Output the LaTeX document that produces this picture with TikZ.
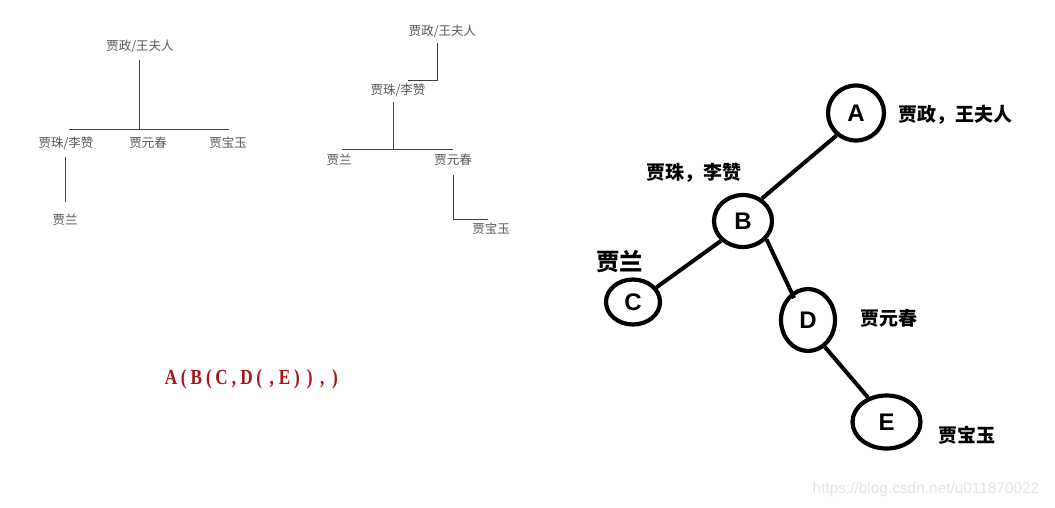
\documentclass[tikz,border=0pt]{standalone}
\usepackage{fontspec}
\setmainfont{Liberation Sans}
\newfontfamily\cjk{Noto Sans CJK SC}
\newfontfamily\formfont[FakeStretch=0.8]{Liberation Serif}
\usetikzlibrary{shapes.geometric}
\definecolor{fred}{RGB}{165,22,22}
\newcommand\fc[1]{\makebox[12.6pt]{#1}}
\begin{document}
\begin{tikzpicture}[x=1pt,y=-1pt,
  gl/.style={font=\cjk\fontsize{12.5}{14}\selectfont, text=black!65, inner sep=0},
  gline/.style={draw=black!75, line width=0.9pt},
  tn/.style={ellipse, draw, line width=4.2pt, inner sep=0, font=\bfseries\fontsize{24}{26}\selectfont},
  bl/.style={font=\cjk\bfseries\fontsize{19}{21}\selectfont, inner sep=0},
  tedge/.style={line width=4pt}]
\useasboundingbox (0,0) rectangle (1055,507);
\fill[white] (0,0) rectangle (1055,507);

% ---- left tree ----
\node[gl] (l1) at (140,46) {贾政/王夫人};
\node[gl] (l2) at (66,143) {贾珠/李赞};
\node[gl] (l3) at (148,143) {贾元春};
\node[gl] (l4) at (228,143) {贾宝玉};
\node[gl] (l5) at (65,220) {贾兰};
\coordinate (lj) at (139,129);
\coordinate (lbl) at (69,129);
\coordinate (lbr) at (229,129);
\draw[gline] (139,60) -- (lj);
\draw[gline] (lbl) -- (lbr);
\draw[gline] (65,157) -- (65,202);

% ---- middle tree ----
\node[gl] (m1) at (442.5,31) {贾政/王夫人};
\node[gl] (m2) at (398,90) {贾珠/李赞};
\node[gl] (m3) at (339,160) {贾兰};
\node[gl] (m4) at (453,160) {贾元春};
\node[gl] (m5) at (491,229) {贾宝玉};
\coordinate (mj1) at (437.7,80);
\draw[gline] (437.7,43) -- (mj1) -- (408,80);
\coordinate (mj2) at (393,149);
\draw[gline] (393,102) -- (mj2);
\draw[gline] (342,149) -- (453,149);
\coordinate (mj3) at (453,219);
\draw[gline] (453,175) -- (mj3) -- (488,219);

% ---- formula ----
\node[inner sep=0, text=fred, font=\formfont\bfseries\fontsize{21.5}{23}\selectfont] (f) at (253,379)
  {\fc{A}\fc{(}\fc{B}\fc{(}\fc{C}\fc{,}\fc{D}\fc{(}\fc{,}\fc{E}\fc{)}\fc{)}\fc{,}\fc{)}};

% ---- right tree ----
\node[tn, minimum width=56pt, minimum height=55pt] (A) at (856,113) {A};
\node[tn, minimum width=58pt, minimum height=52pt] (B) at (743,221) {B};
\node[tn, minimum width=54pt, minimum height=45pt] (C) at (633,302) {C};
\node[tn, minimum width=54pt, minimum height=62pt] (D) at (808,320) {D};
\node[tn, minimum width=68pt, minimum height=53pt] (E) at (886.5,422) {E};
\draw[tedge] (A.229) -- (B.50);
\draw[tedge] (B.222) -- (C.32);
\draw[tedge, shorten >=-6pt] (B.322) -- (D.121);
\draw[tedge] (D.302) -- (E.127);

\node[bl] (la) at (955,115) {贾政，王夫人};
\node[bl] (lb) at (694,173) {贾珠，李赞};
\node[bl, font=\cjk\bfseries\fontsize{23.5}{25}\selectfont] (lc) at (619.5,262) {贾兰};
\node[bl] (ld) at (889,318) {贾元春};
\node[bl] (le) at (967,435) {贾宝玉};

% ---- watermark ----
\node[inner sep=0, text=black!10, font=\fontsize{15.4}{17}\selectfont] (wm) at (926,490) {https://blog.csdn.net/u011870022};
\end{tikzpicture}
\end{document}
